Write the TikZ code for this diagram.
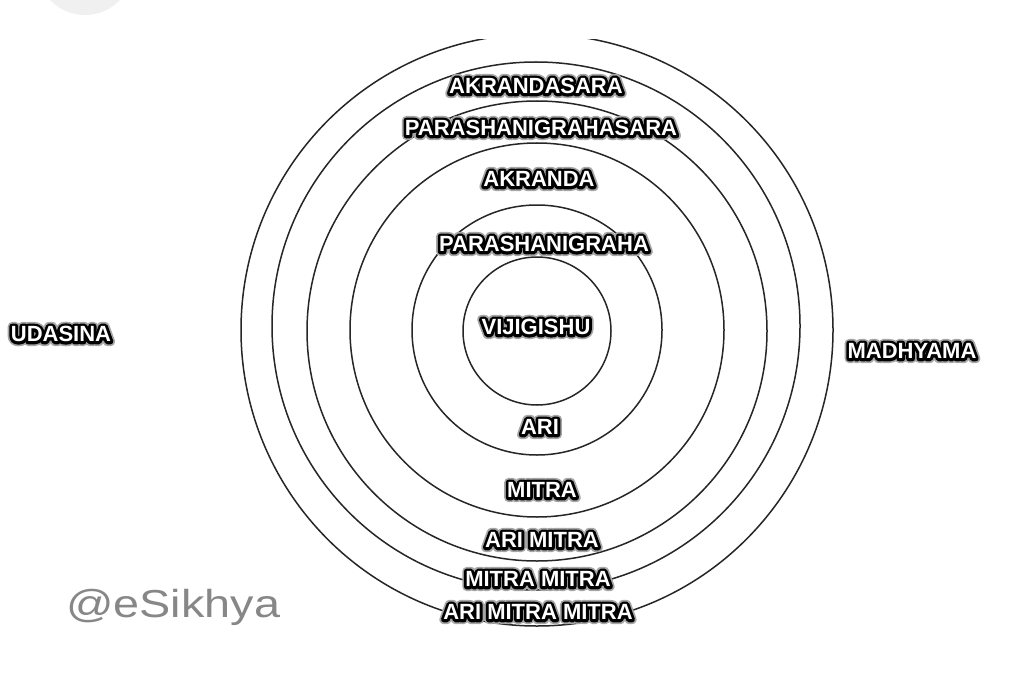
\documentclass[tikz,border=0pt]{standalone}
\usepackage{fontspec}
\setmainfont{Liberation Sans}
\usetikzlibrary{calc}

% stroked copy of a text (pdf text render mode 2)
\newcommand\halo[2]{\special{pdf:literal direct 2 Tr 1 j #1 w}#2\special{pdf:literal direct 0 Tr}}
% white caps with a dark halo
\newcommand\ringlabel[3]{%
  \node[lbl, text=black!35] at (#2) {\halo{9}{#3}};
  \node[lbl, text=black] at (#2) {\halo{5.6}{#3}};
  \node[lbl, text=white] (#1) at (#2) {#3};
}

\begin{document}
\begin{tikzpicture}[x=1pt, y=-1pt,
  ring/.style={line width=1.5pt, black!85},
  lbl/.style={font=\fontsize{22}{24}\selectfont\bfseries, inner sep=0pt},
  wm/.style={font=\fontsize{39}{44}\selectfont, text=black!47, inner sep=0pt}]
  \useasboundingbox[fill=white] (0,0) rectangle (1024,679);
  \fill[gray!12] (85,-33) circle[radius=48pt];

  % rings
  \draw[ring] (537,331) circle[radius=74pt];
  \draw[ring] (537,330) circle[radius=125pt];
  \draw[ring] (537,330) circle[radius=187pt];
  \draw[ring] (537,331) circle[radius=230pt];
  \draw[ring] (536,326) circle[radius=264pt];
  \begin{scope}
    \clip (0,40) rectangle (1024,679);
    \draw[ring] (537,330) circle[radius=296pt];
  \end{scope}

  % labels
  \ringlabel{aks}{536,86}{AKRANDASARA}
  \ringlabel{pgs}{541,128}{PARASHANIGRAHASARA}
  \ringlabel{akr}{539,179}{AKRANDA}
  \ringlabel{pg}{544,244}{PARASHANIGRAHA}
  \ringlabel{vij}{536,327}{VIJIGISHU}
  \ringlabel{ari}{540,427}{ARI}
  \ringlabel{mit}{542,490}{MITRA}
  \ringlabel{arm}{542,540}{ARI MITRA}
  \ringlabel{mm}{538,579}{MITRA MITRA}
  \ringlabel{amm}{538,612}{ARI MITRA MITRA}
  \ringlabel{uda}{61,334}{UDASINA}
  \ringlabel{mad}{912,351}{MADHYAMA}

  \node[wm, anchor=base west] (esk) at (66,617) {\scalebox{1.2}[1]{@eSikhya}};
\end{tikzpicture}
\end{document}
